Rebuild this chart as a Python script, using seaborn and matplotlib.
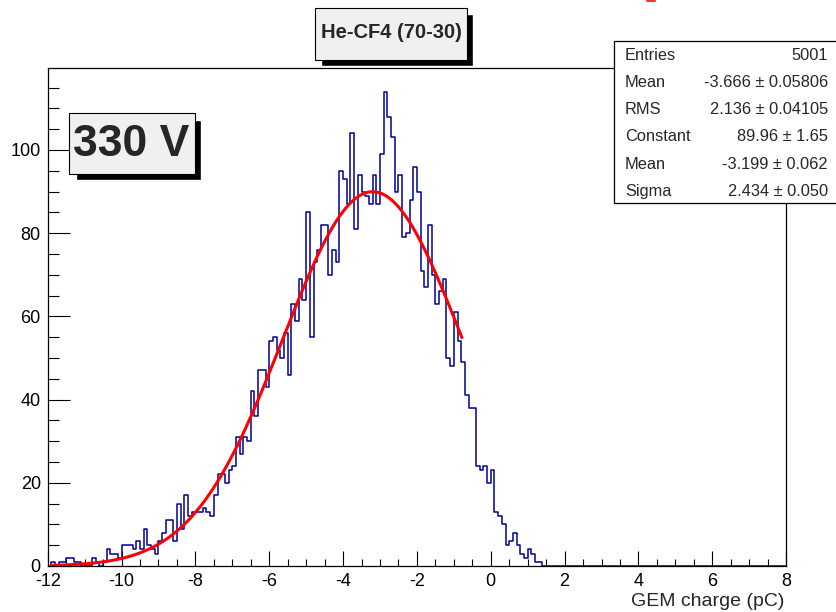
import matplotlib
matplotlib.use("Agg")
import matplotlib.pyplot as plt
import numpy as np
import pandas as pd
import seaborn as sns
from matplotlib.patches import Rectangle
from matplotlib.ticker import MultipleLocator

# GEM charge histogram, 0.1 pC bins starting at -12 pC (bins past the list are empty)
bin_low = -12.0
bin_width = 0.1
n_bins = 200
bin_counts = [
    0, 1, 0, 1, 1, 2, 2, 1, 1, 0, 0, 0, 2, 1, 0, 1, 4, 3, 3, 2,
    5, 5, 5, 4, 6, 4, 9, 5, 4, 3, 6, 8, 11, 11, 6, 15, 9, 17, 12, 13,
    13, 13, 14, 13, 12, 17, 22, 22, 20, 23, 24, 31, 27, 31, 30, 42, 36, 47, 47, 43,
    54, 55, 52, 50, 56, 46, 63, 59, 69, 64, 85, 55, 73, 76, 82, 82, 70, 76, 73, 95,
    93, 87, 104, 81, 94, 90, 89, 87, 94, 87, 99, 114, 108, 103, 90, 94, 79, 80, 88, 96,
    90, 71, 67, 82, 70, 63, 66, 69, 50, 48, 61, 54, 49, 41, 38, 38, 24, 23, 24, 20,
    23, 13, 12, 10, 5, 6, 8, 5, 3, 2, 4, 3, 1, 1,
]

# gaussian fit shown in the stats box
fit_constant = 89.96
fit_mean = -3.199
fit_sigma = 2.434
fit_range = (-11.9, -0.78)

stats_labels = ["Entries", "Mean", "RMS", "Constant", "Mean", "Sigma"]
stats_values = ["5001", "-3.666 \u00b1 0.05806", "2.136 \u00b1 0.04105",
                "89.96 \u00b1 1.65", "-3.199 \u00b1 0.062", "2.434 \u00b1 0.050"]
title_text = "He-CF4 (70-30)"
voltage_text = "330 V"
x_label = "GEM charge (pC)"

W, H = 836, 612


def fx(px):
    return px / W


def fy(py):
    return 1 - py / H


def box(x0, y0, x1, y1, **kw):
    # rectangle given in picture pixels (top-left origin)
    fig.patches.append(Rectangle((fx(x0), fy(y1)), fx(x1 - x0), (y1 - y0) / H,
                                 transform=fig.transFigure, **kw))


sns.set_style("ticks")
plt.rcParams["font.family"] = ["Liberation Sans", "DejaVu Sans"]
plt.rcParams["axes.unicode_minus"] = False

counts = bin_counts + [0] * (n_bins - len(bin_counts))
edges = bin_low + bin_width * np.arange(n_bins + 1)
df = pd.DataFrame({"charge": edges[:-1] + bin_width / 2, "count": counts})

fig = plt.figure(figsize=(W / 100, H / 100), dpi=100)
ax = fig.add_axes([fx(47.7), fy(566), fx(738.4), 498 / H])

sns.histplot(data=df, x="charge", weights="count", bins=edges.tolist(), element="step",
             fill=False, color="#000099", linewidth=1.1, ax=ax)

xf = np.linspace(fit_range[0], fit_range[1], 400)
yf = fit_constant * np.exp(-0.5 * ((xf - fit_mean) / fit_sigma) ** 2)
sns.lineplot(x=xf, y=yf, color="red", linewidth=2.2, ax=ax, sort=False)

ax.set_xlim(-12, 8)
ax.set_ylim(0, 119.7)
ax.xaxis.set_major_locator(MultipleLocator(2))
ax.xaxis.set_minor_locator(MultipleLocator(0.5))
ax.yaxis.set_major_locator(MultipleLocator(20))
ax.yaxis.set_minor_locator(MultipleLocator(5))
ax.tick_params(which="both", direction="in", top=False, right=False, width=0.8,
               labelsize=13, colors="black")
ax.tick_params(axis="x", which="major", length=10.8, pad=5)
ax.tick_params(axis="x", which="minor", length=5.4)
ax.tick_params(axis="y", which="major", length=15.8, pad=5)
ax.tick_params(axis="y", which="minor", length=8)
for sp in ax.spines.values():
    sp.set_visible(True)
    sp.set_color("black")
    sp.set_linewidth(0.9)
ax.set_ylabel("")
ax.set_xlabel("")
fig.text(fx(784), fy(601), x_label, ha="right", va="center", fontsize=14)

# title box with shadow
box(321, 14, 473, 66, facecolor="black", zorder=5)
box(315, 8, 467, 60, facecolor="#f0f0f0", edgecolor="black", linewidth=0.8, zorder=6)
fig.text(fx(391), fy(33), title_text, ha="center", va="center", fontsize=14.5,
         fontweight="bold", zorder=7)

# voltage label with shadow
box(75.5, 119.5, 201.3, 180, facecolor="black", zorder=5)
box(69.3, 113.3, 195.3, 174, facecolor="#f0f0f0", edgecolor="black", linewidth=0.8, zorder=6)
fig.text(fx(131), fy(145), voltage_text, ha="center", va="center", fontsize=32,
         fontweight="bold", zorder=7)

# stats box (runs off the right edge)
box(614.3, 40.7, 840, 203, facecolor="white", edgecolor="black", linewidth=0.9, zorder=6)
for k, (lab, val) in enumerate(zip(stats_labels, stats_values)):
    yy = fy(55 + 27.3 * k)
    fig.text(fx(625), yy, lab, ha="left", va="center", fontsize=11.8, zorder=7)
    fig.text(fx(828), yy, val, ha="right", va="center", fontsize=11.8, zorder=7)

# small red fragment at the top edge
box(645, -1, 656, 2, facecolor="red", zorder=7)

fig.savefig("out.png", dpi=100, facecolor="white")
